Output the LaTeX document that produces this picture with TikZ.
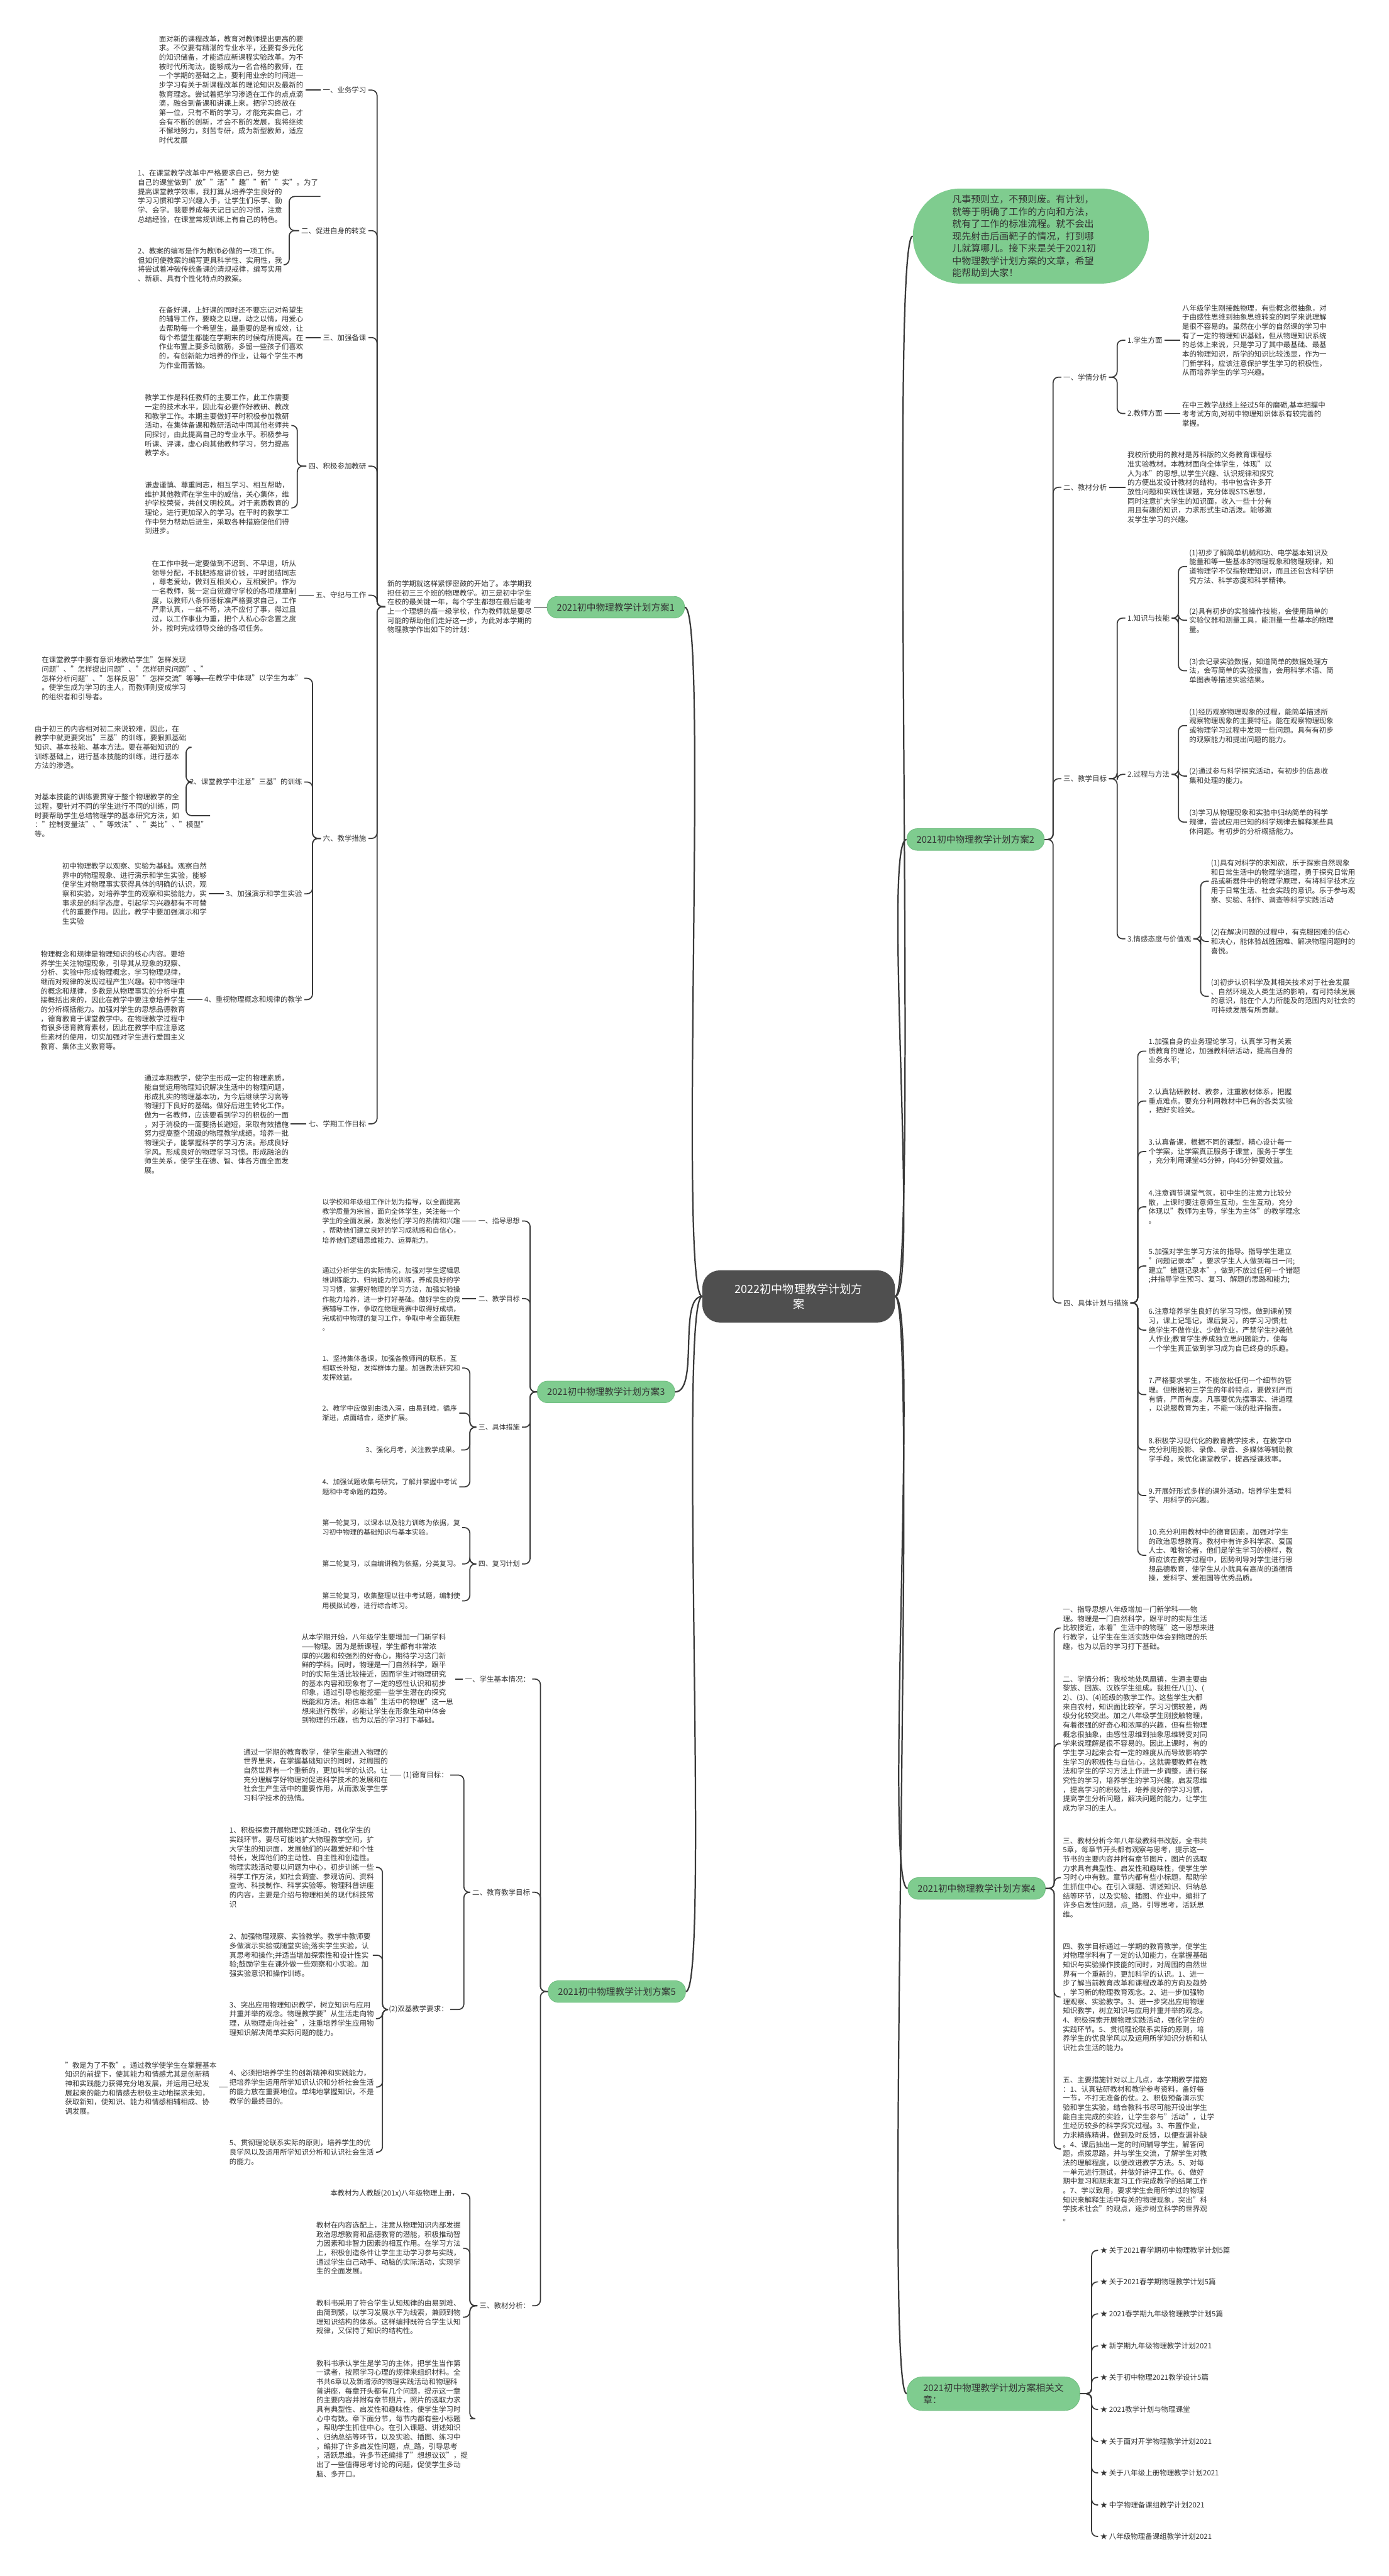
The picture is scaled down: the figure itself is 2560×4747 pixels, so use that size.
\documentclass[tikz,border=0pt]{standalone}
\usepackage{fontspec}
\setmainfont{Noto Sans CJK SC}
\definecolor{tc}{HTML}{333333}
\definecolor{lc}{HTML}{3A3A3A}
\definecolor{gr}{HTML}{7FCC8F}
\definecolor{grd}{HTML}{70BE80}
\definecolor{rootc}{HTML}{4F4F4F}
\newcommand{\fsa}{\fontsize{13.3}{17}\selectfont}
\newcommand{\fsb}{\fontsize{12.7}{17.6}\selectfont}
\newcommand{\fsc}{\fontsize{17}{22}\selectfont}
\newcommand{\fsblob}{\fontsize{17.4}{22.6}\selectfont}
\newcommand{\fsd}{\fontsize{21}{28}\selectfont}
\tikzset{
  txt/.style={font=\fsa, text=tc, align=left, inner sep=1pt, outer sep=3pt},
  txb/.style={txt, font=\fsb},
  lone/.style={fill=gr, draw=grd, line width=1pt, rounded corners=19pt, minimum height=40pt, inner xsep=18pt, font=\fsc, text=tc},
  conn/.style={draw=lc, line width=2pt, rounded corners=10pt},
  rconn/.style={draw=lc, line width=2.6pt},
}
\begin{document}
\begin{tikzpicture}[x=1pt,y=-1pt]
\useasboundingbox (0,0) rectangle (2560,4747);
\fill[white] (0,0) rectangle (2560,4747);

% ---------------- root ----------------
\node[fill=rootc, rounded corners=32pt, minimum width=355pt, minimum height=96pt, text=white, font=\fsd, align=center] (root) at (1472,2389) {2022初中物理教学计划方\\案};

% ---------------- level 1 ----------------
\node[lone] (n1) at (1135,1119) {2021初中物理教学计划方案1};
\node[lone] (n2) at (1798,1547) {2021初中物理教学计划方案2};
\node[lone] (n3) at (1117,2565) {2021初中物理教学计划方案3};
\node[lone] (n4) at (1800,3480) {2021初中物理教学计划方案4};
\node[lone] (n5) at (1137,3670) {2021初中物理教学计划方案5};
\node[lone, align=left, minimum height=62pt, rounded corners=28pt, inner xsep=30pt] (rel) at (1831,4411) {2021初中物理教学计划方案相关文\\章：};
\node[fill=gr, rounded corners=87pt, minimum width=435pt, minimum height=175pt, text width=290pt, align=left, font=\fsblob, text=tc] (blob) at (1900,435) {凡事预则立，不预则废。有计划，\\就等于明确了工作的方向和方法，\\就有了工作的标准流程。就不会出\\现先射击后画靶子的情况，打到哪\\儿就算哪儿。接下来是关于2021初\\中物理教学计划方案的文章，希望\\能帮助到大家！};

\draw[rconn] (root.west) .. controls +(-45,0) and +(45,0) .. (n1.east);
\draw[rconn] (root.west) .. controls +(-45,0) and +(45,0) .. (n3.east);
\draw[rconn] (root.west) .. controls +(-45,0) and +(45,0) .. (n5.east);
\draw[rconn] (root.east) .. controls +(45,0) and +(-45,0) .. (blob.west);
\draw[rconn] (root.east) .. controls +(45,0) and +(-45,0) .. (n2.west);
\draw[rconn] (root.east) .. controls +(45,0) and +(-45,0) .. (n4.west);
\draw[rconn] (root.east) .. controls +(45,0) and +(-45,0) .. (rel.west);

% ================= 方案1 =================
\node[txt, anchor=west] (i1) at (710,1118) {新的学期就这样紧锣密鼓的开始了。本学期我\\担任初三三个班的物理教学。初三是初中学生\\在校的最关键一年，每个学生都想在最后能考\\上一个理想的高一级学校，作为教师就是要尽\\可能的帮助他们走好这一步，为此对本学期的\\物理教学作出如下的计划：};
\draw[conn] (n1.west) -- (n1.west -| i1.east);

\node[txt, anchor=east] (a1) at (679,166) {一、业务学习};
\node[txt, anchor=east] (a2) at (679,425) {二、促进自身的转变};
\node[txt, anchor=east] (a3) at (679,622) {三、加强备课};
\node[txt, anchor=east] (a4) at (679,859) {四、积极参加教研};
\node[txt, anchor=east] (a5) at (679,1097) {五、守纪与工作};
\node[txt, anchor=east] (a6) at (679,1545) {六、教学措施};
\node[txt, anchor=east] (a7) at (679,2071) {七、学期工作目标};
\coordinate (s1) at (695,0);
\foreach \c in {a1,a2,a3,a4,a5,a6,a7} {\draw[conn] (i1.west) -- (i1.west -| s1) |- (\c.east);}

\node[txt, anchor=west] (t11) at (289,165) {面对新的课程改革，教育对教师提出更高的要\\求。不仅要有精湛的专业水平，还要有多元化\\的知识储备，才能适应新课程实验改革。为不\\被时代所淘汰，能够成为一名合格的教师，在\\一个学期的基础之上，要利用业余的时间进一\\步学习有关于新课程改革的理论知识及最新的\\教育理念。尝试着把学习渗透在工作的点点滴\\滴，融合到备课和讲课上来。把学习终放在\\第一位，只有不断的学习，才能充实自己，才\\会有不断的创新，才会不断的发展，我将继续\\不懈地努力，刻苦专研，成为新型教师，适应\\时代发展};
\draw[conn] (a1.west) -- (a1.west -| t11.east);

\node[txt, anchor=west] (t21) at (250,362) {1、在课堂教学改革中严格要求自己，努力使\\自己的课堂做到"放""活""趣""新""实"。为了\\提高课堂教学效率，我打算从培养学生良好的\\学习习惯和学习兴趣入手，让学生们乐学、勤\\学、会学。我要养成每天记日记的习惯，注意\\总结经验，在课堂常规训练上有自己的特色。};
\node[txt, anchor=west] (t22) at (250,488) {2、教案的编写是作为教师必做的一项工作。\\但如何使教案的编写更具科学性、实用性，我\\将尝试着冲破传统备课的清规戒律，编写实用\\、新颖、具有个性化特点的教案。};
\coordinate (s12) at (533,0);
\foreach \c in {t21,t22} {\draw[conn] (a2.west) -- (a2.west -| s12) |- (\c.east);}

\node[txt, anchor=west] (t3) at (289,622) {在备好课，上好课的同时还不要忘记对希望生\\的辅导工作，要晓之以理，动之以情，用爱心\\去帮助每一个希望生，最重要的是有成效，让\\每个希望生都能在学期末的时候有所提高。在\\作业布置上要多动脑筋，多留一些孩子们喜欢\\的，有创新能力培养的作业，让每个学生不再\\为作业而苦恼。};
\draw[conn] (a3.west) -- (a3.west -| t3.east);

\node[txt, anchor=west] (t41) at (263,784) {教学工作是科任教师的主要工作，此工作需要\\一定的技术水平，因此有必要作好教研、教改\\和教学工作。本期主要做好平时积极参加教研\\活动，在集体备课和教研活动中同其他老师共\\同探讨，由此提高自己的专业水平。积极参与\\听课、评课，虚心向其他教师学习，努力提高\\教学水。};
\node[txt, anchor=west] (t42) at (263,936) {谦虚谨慎、尊重同志，相互学习、相互帮助，\\维护其他教师在学生中的威信，关心集体，维\\护学校荣誉，共创文明校风。对于素质教育的\\理论，进行更加深入的学习。在平时的教学工\\作中努力帮助后进生，采取各种措施使他们得\\到进步。};
\coordinate (s14) at (548,0);
\foreach \c in {t41,t42} {\draw[conn] (a4.west) -- (a4.west -| s14) |- (\c.east);}

\node[txt, anchor=west] (t5) at (276,1098) {在工作中我一定要做到不迟到、不早退，听从\\领导分配，不挑肥拣瘦讲价钱，平时团结同志\\，尊老爱幼，做到互相关心，互相爱护。作为\\一名教师，我一定自觉遵守学校的各项规章制\\度，以教师八条师德标准严格要求自己，工作\\严肃认真，一丝不苟，决不应付了事，得过且\\过，以工作事业为重，把个人私心杂念置之度\\外，按时完成领导交给的各项任务。};
\draw[conn] (a5.west) -- (a5.west -| t5.east);

\node[txt, anchor=east] (b61) at (561,1250) {1、在教学中体现"以学生为本"};
\node[txt, anchor=east] (b62) at (561,1441) {2、课堂教学中注意"三基"的训练};
\node[txt, anchor=east] (b63) at (561,1647) {3、加强演示和学生实验};
\node[txt, anchor=east] (b64) at (561,1842) {4、重视物理概念和规律的教学};
\coordinate (s16) at (576,0);
\foreach \c in {b61,b62,b63,b64} {\draw[conn] (a6.west) -- (a6.west -| s16) |- (\c.east);}

\node[txt, anchor=west] (t61) at (73,1250) {在课堂教学中要有意识地教给学生"怎样发现\\问题"、"怎样提出问题"、"怎样研究问题"、"\\怎样分析问题"、"怎样反思""怎样交流"等等\\。使学生成为学习的主人，而教师则变成学习\\的组织者和引导者。};
\draw[conn] (b61.west) -- (b61.west -| t61.east);
\node[txt, anchor=west] (t621) at (60,1377) {由于初三的内容相对初二来说较难，因此，在\\教学中就更要突出"三基"的训练，要狠抓基础\\知识、基本技能、基本方法。要在基础知识的\\训练基础上，进行基本技能的训练，进行基本\\方法的渗透。};
\node[txt, anchor=west] (t622) at (60,1503) {对基本技能的训练要贯穿于整个物理教学的全\\过程，要针对不同的学生进行不同的训练，同\\时要帮助学生总结物理学的基本研究方法，如\\："控制变量法"、"等效法"、"类比"、"模型"\\等。};
\coordinate (s162) at (343,0);
\foreach \c in {t621,t622} {\draw[conn] (b62.west) -- (b62.west -| s162) |- (\c.east);}
\node[txt, anchor=west] (t63) at (111,1647) {初中物理教学以观察、实验为基础。观察自然\\界中的物理现象、进行演示和学生实验，能够\\使学生对物理事实获得具体的明确的认识，观\\察和实验，对培养学生的观察和实验能力，实\\事求是的科学态度，引起学习兴趣都有不可替\\代的重要作用。因此，教学中要加强演示和学\\生实验};
\draw[conn] (b63.west) -- (b63.west -| t63.east);
\node[txt, anchor=west] (t64) at (71,1843) {物理概念和规律是物理知识的核心内容。要培\\养学生关注物理现象，引导其从现象的观察、\\分析、实验中形成物理概念，学习物理规律，\\继而对规律的发现过程产生兴趣。初中物理中\\的概念和规律，多数是从物理事实的分析中直\\接概括出来的，因此在教学中要注意培养学生\\的分析概括能力。加强对学生的思想品德教育\\，德育教育于课堂教学中。在物理教学过程中\\有很多德育教育素材，因此在教学中应注意这\\些素材的使用，切实加强对学生进行爱国主义\\教育、集体主义教育等。};
\draw[conn] (b64.west) -- (b64.west -| t64.east);

\node[txt, anchor=west] (t7) at (262,2072) {通过本期教学，使学生形成一定的物理素质，\\能自觉运用物理知识解决生活中的物理问题，\\形成扎实的物理基本功，为今后继续学习高等\\物理打下良好的基础。做好后进生转化工作。\\做为一名教师，应该要看到学习的积极的一面\\，对于消极的一面要扬长避短，采取有效措施\\努力提高整个班级的物理教学成绩。培养一批\\物理尖子，能掌握科学的学习方法。形成良好\\学风。形成良好的物理学习习惯。形成融洽的\\师生关系，使学生在德、智、体各方面全面发\\展。};
\draw[conn] (a7.west) -- (a7.west -| t7.east);

% ================= 方案2 =================
\node[txt, anchor=west] (c1) at (1956,695) {一、学情分析};
\node[txt, anchor=west] (c2) at (1956,898) {二、教材分析};
\node[txt, anchor=west] (c3) at (1956,1435) {三、教学目标};
\node[txt, anchor=west] (c4) at (1956,2401) {四、具体计划与措施};
\coordinate (s2) at (1941,0);
\foreach \c in {c1,c2,c3,c4} {\draw[conn] (n2.east) -- (n2.east -| s2) |- (\c.west);}

\node[txt, anchor=west] (c11) at (2074,627) {1.学生方面};
\node[txt, anchor=west] (c12) at (2074,762) {2.教师方面};
\coordinate (s21) at (2059,0);
\foreach \c in {c11,c12} {\draw[conn] (c1.east) -- (c1.east -| s21) |- (\c.west);}
\node[txt, anchor=west] (t111) at (2175,627) {八年级学生刚接触物理，有些概念很抽象，对\\于由感性思维到抽象思维转变的同学来说理解\\是很不容易的。虽然在小学的自然课的学习中\\有了一定的物理知识基础，但从物理知识系统\\的总体上来说，只是学习了其中最基础、最基\\本的物理知识，所学的知识比较浅显，作为一\\门新学科，应该注意保护学生学习的积极性，\\从而培养学生的学习兴趣。};
\draw[conn] (c11.east) -- (c11.east -| t111.west);
\node[txt, anchor=west] (t121) at (2175,763) {在中三教学战线上经过5年的磨砺,基本把握中\\考考试方向,对初中物理知识体系有较完善的\\掌握。};
\draw[conn] (c12.east) -- (c12.east -| t121.west);

\node[txt, anchor=west] (t2) at (2074,898) {我校所使用的教材是苏科版的义务教育课程标\\准实验教材。本教材面向全体学生，体现"以\\人为本"的思想,以学生兴趣、认识规律和探究\\的方便出发设计教材的结构，书中包含许多开\\放性问题和实践性课题，充分体现STS思想，\\同时注意扩大学生的知识面，收入一些十分有\\用且有趣的知识，力求形式生动活泼。能够激\\发学生学习的兴趣。};
\draw[conn] (c2.east) -- (c2.east -| t2.west);

\node[txt, anchor=west] (c31) at (2074,1139) {1.知识与技能};
\node[txt, anchor=west] (c32) at (2074,1427) {2.过程与方法};
\node[txt, anchor=west] (c33) at (2074,1730) {3.情感态度与价值观};
\coordinate (s23) at (2059,0);
\foreach \c in {c31,c32,c33} {\draw[conn] (c3.east) -- (c3.east -| s23) |- (\c.west);}

\node[txt, anchor=west] (t311) at (2188,1044) {(1)初步了解简单机械和功、电学基本知识及\\能量和等一些基本的物理现象和物理规律，知\\道物理学不仅指物理知识，而且还包含科学研\\究方法、科学态度和科学精神。};
\node[txt, anchor=west] (t312) at (2188,1143) {(2)具有初步的实验操作技能，会使用简单的\\实验仪器和测量工具，能测量一些基本的物理\\量。};
\node[txt, anchor=west] (t313) at (2188,1236) {(3)会记录实验数据，知道简单的数据处理方\\法，会写简单的实验报告，会用科学术语、简\\单图表等描述实验结果。};
\coordinate (s231) at (2172,0);
\foreach \c in {t311,t312,t313} {\draw[conn] (c31.east) -- (c31.east -| s231) |- (\c.west);}

\node[txt, anchor=west] (t321) at (2188,1337) {(1)经历观察物理现象的过程，能简单描述所\\观察物理现象的主要特征。能在观察物理现象\\或物理学习过程中发现一些问题。具有有初步\\的观察能力和提出问题的能力。};
\node[txt, anchor=west] (t322) at (2188,1430) {(2)通过参与科学探究活动，有初步的信息收\\集和处理的能力。};
\node[txt, anchor=west] (t323) at (2188,1515) {(3)学习从物理现象和实验中归纳简单的科学\\规律，尝试应用已知的科学规律去解释某些具\\体问题。有初步的分析概括能力。};
\coordinate (s232) at (2172,0);
\foreach \c in {t321,t322,t323} {\draw[conn] (c32.east) -- (c32.east -| s232) |- (\c.west);}

\node[txt, anchor=west] (t331) at (2228,1624) {(1)具有对科学的求知欲，乐于探索自然现象\\和日常生活中的物理学道理，勇于探究日常用\\品或新器件中的物理学原理，有将科学技术应\\用于日常生活、社会实践的意识。乐于参与观\\察、实验、制作、调查等科学实践活动};
\node[txt, anchor=west] (t332) at (2228,1735) {(2)在解决问题的过程中，有克服困难的信心\\和决心，能体验战胜困难、解决物理问题时的\\喜悦。};
\node[txt, anchor=west] (t333) at (2228,1836) {(3)初步认识科学及其相关技术对于社会发展\\、自然环境及人类生活的影响，有可持续发展\\的意识，能在个人力所能及的范围内对社会的\\可持续发展有所贡献。};
\coordinate (s233) at (2213,0);
\foreach \c in {t331,t332,t333} {\draw[conn] (c33.east) -- (c33.east -| s233) |- (\c.west);}

\node[txt, anchor=west] (p1) at (2113,1937) {1.加强自身的业务理论学习，认真学习有关素\\质教育的理论，加强教科研活动，提高自身的\\业务水平;};
\node[txt, anchor=west] (p2) at (2113,2029) {2.认真钻研教材、教参，注重教材体系，把握\\重点难点。要充分利用教材中已有的各类实验\\，把好实验关。};
\node[txt, anchor=west] (p3) at (2113,2122) {3.认真备课，根据不同的课型，精心设计每一\\个学案，让学案真正服务于课堂，服务于学生\\，充分利用课堂45分钟，向45分钟要效益。};
\node[txt, anchor=west] (p4) at (2113,2224) {4.注意调节课堂气氛，初中生的注意力比较分\\散，上课时要注意师生互动，生生互动，充分\\体现以"教师为主导，学生为主体"的教学理念\\。};
\node[txt, anchor=west] (p5) at (2113,2333) {5.加强对学生学习方法的指导。指导学生建立\\"问题记录本"，要求学生人人做到每日一问;\\建立"错题记录本"，做到不放过任何一个错题\\;并指导学生预习、复习、解题的思路和能力;};
\node[txt, anchor=west] (p6) at (2113,2451) {6.注意培养学生良好的学习习惯。做到课前预\\习，课上记笔记，课后复习，的学习习惯;杜\\绝学生不做作业、少做作业，严禁学生抄袭他\\人作业;教育学生养成独立思问题能力，使每\\一个学生真正做到学习成为自已终身的乐趣。};
\node[txt, anchor=west] (p7) at (2113,2570) {7.严格要求学生，不能放松任何一个细节的管\\理。但根据初三学生的年龄特点，要做到严而\\有情，严而有度。凡事要优先摆事实、讲道理\\，以说服教育为主，不能一味的批评指责。};
\node[txt, anchor=west] (p8) at (2113,2672) {8.积极学习现代化的教育教学技术，在教学中\\充分利用投影、录像、录音、多媒体等辅助教\\学手段，来优化课堂教学，提高授课效率。};
\node[txt, anchor=west] (p9) at (2113,2756) {9.开展好形式多样的课外活动，培养学生爱科\\学、用科学的兴趣。};
\node[txt, anchor=west] (p10) at (2113,2866) {10.充分利用教材中的德育因素，加强对学生\\的政治思想教育。教材中有许多科学家、爱国\\人士、唯物论者，他们是学生学习的榜样，教\\师应该在教学过程中，因势利导对学生进行思\\想品德教育，使学生从小就具有高尚的道德情\\操，爱科学、爱祖国等优秀品质。};
\coordinate (s24) at (2097,0);
\foreach \c in {p1,p2,p3,p4,p5,p6,p7,p8,p9,p10} {\draw[conn] (c4.east) -- (c4.east -| s24) |- (\c.west);}

% ================= 方案4 =================
\node[txt, anchor=west] (d1) at (1955,3000) {一、指导思想八年级增加一门新学科——物\\理。物理是一门自然科学，跟平时的实际生活\\比较接近，本着"生活中的物理"这一思想来进\\行教学，让学生在生活实践中体会到物理的乐\\趣，也为以后的学习打下基础。};
\node[txt, anchor=west] (d2) at (1955,3213) {二、学情分析：我校地处凤凰镇，生源主要由\\黎族、回族、汉族学生组成。我担任八(1)、(\\2)、(3)、(4)班级的教学工作。这些学生大都\\来自农村，知识面比较窄，学习习惯较差，两\\级分化较突出。加之八年级学生刚接触物理，\\有着很强的好奇心和浓厚的兴趣，但有些物理\\概念很抽象，由感性思维到抽象思维转变对同\\学来说理解是很不容易的。因此上课时，有的\\学生学习起来会有一定的难度从而导致影响学\\生学习的积极性与自信心，这就需要教师在教\\法和学生的学习方法上作进一步调整，进行探\\究性的学习，培养学生的学习兴趣，启发思维\\，提高学习的积极性，培养良好的学习习惯，\\提高学生分析问题，解决问题的能力，让学生\\成为学习的主人。};
\node[txt, anchor=west] (d3) at (1955,3460) {三、教材分析今年八年级教科书改版，全书共\\5章，每章节开头都有观察与思考，提示这一\\节书的主要内容并附有章节图片，图片的选取\\力求具有典型性、启发性和趣味性，使学生学\\习时心中有数。章节内都有些小标题，帮助学\\生抓住中心。在引入课题、讲述知识、归纳总\\结等环节，以及实验、插图、作业中，编排了\\许多启发性问题，点\_路，引导思考，活跃思\\维。};
\node[txt, anchor=west] (d4) at (1955,3680) {四、教学目标通过一学期的教育教学，使学生\\对物理学科有了一定的认知能力，在掌握基础\\知识与实验操作技能的同时，对周围的自然世\\界有一个重新的，更加科学的认识。1、进一\\步了解当前教育改革和课程改革的方向及趋势\\，学习新的物理教育观念。2、进一步加强物\\理观察、实验教学。3、进一步突出应用物理\\知识教学，树立知识与应用并重并举的观念。\\4、积极探索开展物理实践活动，强化学生的\\实践环节。5、贯彻理论联系实际的原则，培\\养学生的优良学风以及运用所学知识分析和认\\识社会生活的能力。};
\node[txt, anchor=west] (d5) at (1955,3960) {五、主要措施针对以上几点，本学期教学措施\\：1、认真钻研教材和教学参考资料，备好每\\一节，不打无准备的仗。2、积极预备演示实\\验和学生实验，结合教科书尽可能开设出学生\\能自主完成的实验，让学生参与"活动"，让学\\生经历较多的科学探究过程。3、布置作业，\\力求精练精讲，做到及时反馈，以便查漏补缺\\。4、课后抽出一定的时间辅导学生，解答问\\题，点拨思路，并与学生交流，了解学生对教\\法的理解程度，以便改进教学方法。5、对每\\一单元进行测试，并做好讲评工作。6、做好\\期中复习和期末复习工作完成教学的结尾工作\\。7、学以致用，要求学生会用所学过的物理\\知识来解释生活中有关的物理现象，突出"科\\学技术社会"的观点，逐步树立科学的世界观\\。};
\coordinate (s4) at (1943,0);
\foreach \c in {d1,d2,d3,d4,d5} {\draw[conn] (n4.east) -- (n4.east -| s4) |- (\c.west);}

% ================= 相关文章 =================
\node[txt, anchor=west] (r1) at (2024,4147) {★ 关于2021春学期初中物理教学计划5篇};
\node[txt, anchor=west] (r2) at (2024,4205) {★ 关于2021春学期物理教学计划5篇};
\node[txt, anchor=west] (r3) at (2024,4264) {★ 2021春学期九年级物理教学计划5篇};
\node[txt, anchor=west] (r4) at (2024,4323) {★ 新学期九年级物理教学计划2021};
\node[txt, anchor=west] (r5) at (2024,4381) {★ 关于初中物理2021教学设计5篇};
\node[txt, anchor=west] (r6) at (2024,4440) {★ 2021教学计划与物理课堂};
\node[txt, anchor=west] (r7) at (2024,4499) {★ 关于面对开学物理教学计划2021};
\node[txt, anchor=west] (r8) at (2024,4557) {★ 关于八年级上册物理教学计划2021};
\node[txt, anchor=west] (r9) at (2024,4616) {★ 中学物理备课组教学计划2021};
\node[txt, anchor=west] (r10) at (2024,4674) {★ 八年级物理备课组教学计划2021};
\coordinate (s6) at (2012,0);
\foreach \c in {r1,r2,r3,r4,r5,r6,r7,r8,r9,r10} {\draw[conn] (rel.east) -- (rel.east -| s6) |- (\c.west);}

% ================= 方案3 =================
\node[txb, anchor=east] (e1) at (962,2250) {一、指导思想};
\node[txb, anchor=east] (e2) at (962,2393) {二、教学目标};
\node[txb, anchor=east] (e3) at (962,2630) {三、具体措施};
\node[txb, anchor=east] (e4) at (962,2882) {四、复习计划};
\coordinate (s3) at (977,0);
\foreach \c in {e1,e2,e3,e4} {\draw[conn] (n3.west) -- (n3.west -| s3) |- (\c.east);}

\node[txb, anchor=west] (te1) at (590,2250) {以学校和年级组工作计划为指导，以全面提高\\教学质量为宗旨，面向全体学生，关注每一个\\学生的全面发展，激发他们学习的热情和兴趣\\，帮助他们建立良好的学习成就感和自信心，\\培养他们逻辑思维能力、运算能力。};
\draw[conn] (e1.west) -- (e1.west -| te1.east);
\node[txb, anchor=west] (te2) at (590,2394) {通过分析学生的实际情况，加强对学生逻辑思\\维训练能力、归纳能力的训练，养成良好的学\\习习惯，掌握好物理的学习方法，加强实验操\\作能力培养，进一步打好基础。做好学生的竞\\赛辅导工作，争取在物理竞赛中取得好成绩，\\完成初中物理的复习工作，争取中考全面获胜\\。};
\draw[conn] (e2.west) -- (e2.west -| te2.east);

\node[txb, anchor=west] (te31) at (590,2521) {1、坚持集体备课，加强各教师间的联系，互\\相取长补短，发挥群体力量。加强教法研究和\\发挥效益。};
\node[txb, anchor=west] (te32) at (590,2604) {2、教学中应做到由浅入深，由易到难，循序\\渐进，点面结合，逐步扩展。};
\node[txb, anchor=east] (te33) at (850,2672) {3、强化月考，关注教学成果。};
\node[txb, anchor=west] (te34) at (590,2740) {4、加强试题收集与研究，了解并掌握中考试\\题和中考命题的趋势。};
\coordinate (s33) at (866,0);
\foreach \c in {te31,te32,te33,te34} {\draw[conn] (e3.west) -- (e3.west -| s33) |- (\c.east);}

\node[txb, anchor=west] (te41) at (590,2815) {第一轮复习，以课本以及能力训练为依据，复\\习初中物理的基础知识与基本实验。};
\node[txb, anchor=west] (te42) at (590,2882) {第二轮复习，以自编讲稿为依据，分类复习。};
\node[txb, anchor=west] (te43) at (590,2950) {第三轮复习，收集整理以往中考试题，编制使\\用模拟试卷，进行综合练习。};
\coordinate (s34) at (866,0);
\foreach \c in {te41,te42,te43} {\draw[conn] (e4.west) -- (e4.west -| s34) |- (\c.east);}

% ================= 方案5 =================
\node[txt, anchor=east] (f1) at (981,3094) {一、学生基本情况：};
\node[txt, anchor=east] (f2) at (981,3487) {二、教育教学目标};
\node[txt, anchor=east] (f3) at (981,4249) {三、教材分析：};
\coordinate (s5) at (996,0);
\foreach \c in {f1,f2,f3} {\draw[conn] (n5.west) -- (n5.west -| s5) |- (\c.east);}

\node[txt, anchor=west] (t51) at (552,3094) {从本学期开始，八年级学生要增加一门新学科\\——物理。因为是新课程，学生都有非常浓\\厚的兴趣和较强烈的好奇心，期待学习这门新\\鲜的学科。同时，物理是一门自然科学，跟平\\时的实际生活比较接近，因而学生对物理研究\\的基本内容和现象有了一定的感性认识和初步\\印象，通过引导也能挖掘一些学生潜在的探究\\既能和方法。相信本着"生活中的物理"这一思\\想来进行教学，必能让学生在形象生动中体会\\到物理的乐趣，也为以后的学习打下基础。};
\draw[conn] (f1.west) -- (f1.west -| t51.east);

\node[txt, anchor=east] (f21) at (830,3271) {(1)德育目标：};
\node[txt, anchor=east] (f22) at (830,3703) {(2)双基教学要求：};
\coordinate (s52) at (855,0);
\foreach \c in {f21,f22} {\draw[conn] (f2.west) -- (f2.west -| s52) |- (\c.east);}

\node[txt, anchor=west] (t521) at (445,3271) {通过一学期的教育教学，使学生能进入物理的\\世界里来，在掌握基础知识的同时，对周围的\\自然世界有一个重新的，更加科学的认识。让\\充分理解学好物理对促进科学技术的发展和在\\社会生产生活中的重要作用，从而激发学生学\\习科学技术的热情。};
\draw[conn] (f21.west) -- (f21.west -| t521.east);

\node[txt, anchor=west] (g1) at (419,3441) {1、积极探索开展物理实践活动，强化学生的\\实践环节。要尽可能地扩大物理教学空间，扩\\大学生的知识面，发展他们的兴趣爱好和个性\\特长，发挥他们的主动性、自主性和创造性。\\物理实践活动要以问题为中心，初步训练一些\\科学工作方法，如社会调查、参观访问、资料\\查询、科技制作、科学实验等。物理科普讲座\\的内容，主要是介绍与物理相关的现代科技常\\识};
\node[txt, anchor=west] (g2) at (419,3603) {2、加强物理观察、实验教学。教学中教师要\\多做演示实验或随堂实验;落实学生实验，认\\真思考和操作;并适当增加探索性和设计性实\\验;鼓励学生在课外做一些观察和小实验。加\\强实验意识和操作训练。};
\node[txt, anchor=west] (g3) at (419,3720) {3、突出应用物理知识教学，树立知识与应用\\并重并举的观念。物理教学要"从生活走向物\\理，从物理走向社会"，注重培养学生应用物\\理知识解决简单实际问题的能力。};
\node[txt, anchor=west] (g4) at (419,3846) {4、必须把培养学生的创新精神和实践能力，\\把培养学生运用所学知识认识和分析社会生活\\的能力放在重要地位。单纯地掌握知识，不是\\教学的最终目的。};
\node[txt, anchor=west] (g5) at (419,3966) {5、贯彻理论联系实际的原则，培养学生的优\\良学风以及运用所学知识分析和认识社会生活\\的能力。};
\coordinate (s522) at (705,0);
\foreach \c in {g1,g2,g3,g4,g5} {\draw[conn] (f22.west) -- (f22.west -| s522) |- (\c.east);}

\node[txt, anchor=west] (g4c) at (116,3848) {"教是为了不教"。通过教学使学生在掌握基本\\知识的前提下，使其能力和情感尤其是创新精\\神和实践能力获得充分地发展，并运用已经发\\展起来的能力和情感去积极主动地探求未知，\\获取新知，使知识、能力和情感相辅相成、协\\调发展。};
\draw[conn] (g4.west) -- (g4.west -| g4c.east);

\node[txt, anchor=east] (h1) at (850,4042) {本教材为人教版(201x)八年级物理上册，};
\node[txt, anchor=west] (h2) at (579,4143) {教材在内容选配上，注意从物理知识内部发掘\\政治思想教育和品德教育的潜能，积极推动智\\力因素和非智力因素的相互作用。在学习方法\\上，积极创造条件让学生主动学习参与实践，\\通过学生自己动手、动脑的实际活动，实现学\\生的全面发展。};
\node[txt, anchor=west] (h3) at (579,4270) {教科书采用了符合学生认知规律的由易到难、\\由简到繁，以学习发展水平为线索，兼顾到物\\理知识结构的体系。这样编排既符合学生认知\\规律，又保持了知识的结构性。};
\node[txt, anchor=west] (h4) at (579,4457) {教科书承认学生是学习的主体，把学生当作第\\一读者，按照学习心理的规律来组织材料。全\\书共6章以及新增添的物理实践活动和物理科\\普讲座，每章开头都有几个问题，提示这一章\\的主要内容并附有章节照片，照片的选取力求\\具有典型性、启发性和趣味性，使学生学习时\\心中有数。章下面分节，每节内都有些小标题\\，帮助学生抓住中心。在引入课题、讲述知识\\、归纳总结等环节，以及实验、插图、练习中\\，编排了许多启发性问题，点\_路，引导思考\\，活跃思维。许多节还编排了"想想议议"，提\\出了一些值得思考讨论的问题，促使学生多动\\脑、多开口。};
\coordinate (s53) at (866,0);
\foreach \c in {h1,h2,h3,h4} {\draw[conn] (f3.west) -- (f3.west -| s53) |- (\c.east);}

\end{tikzpicture}
\end{document}
